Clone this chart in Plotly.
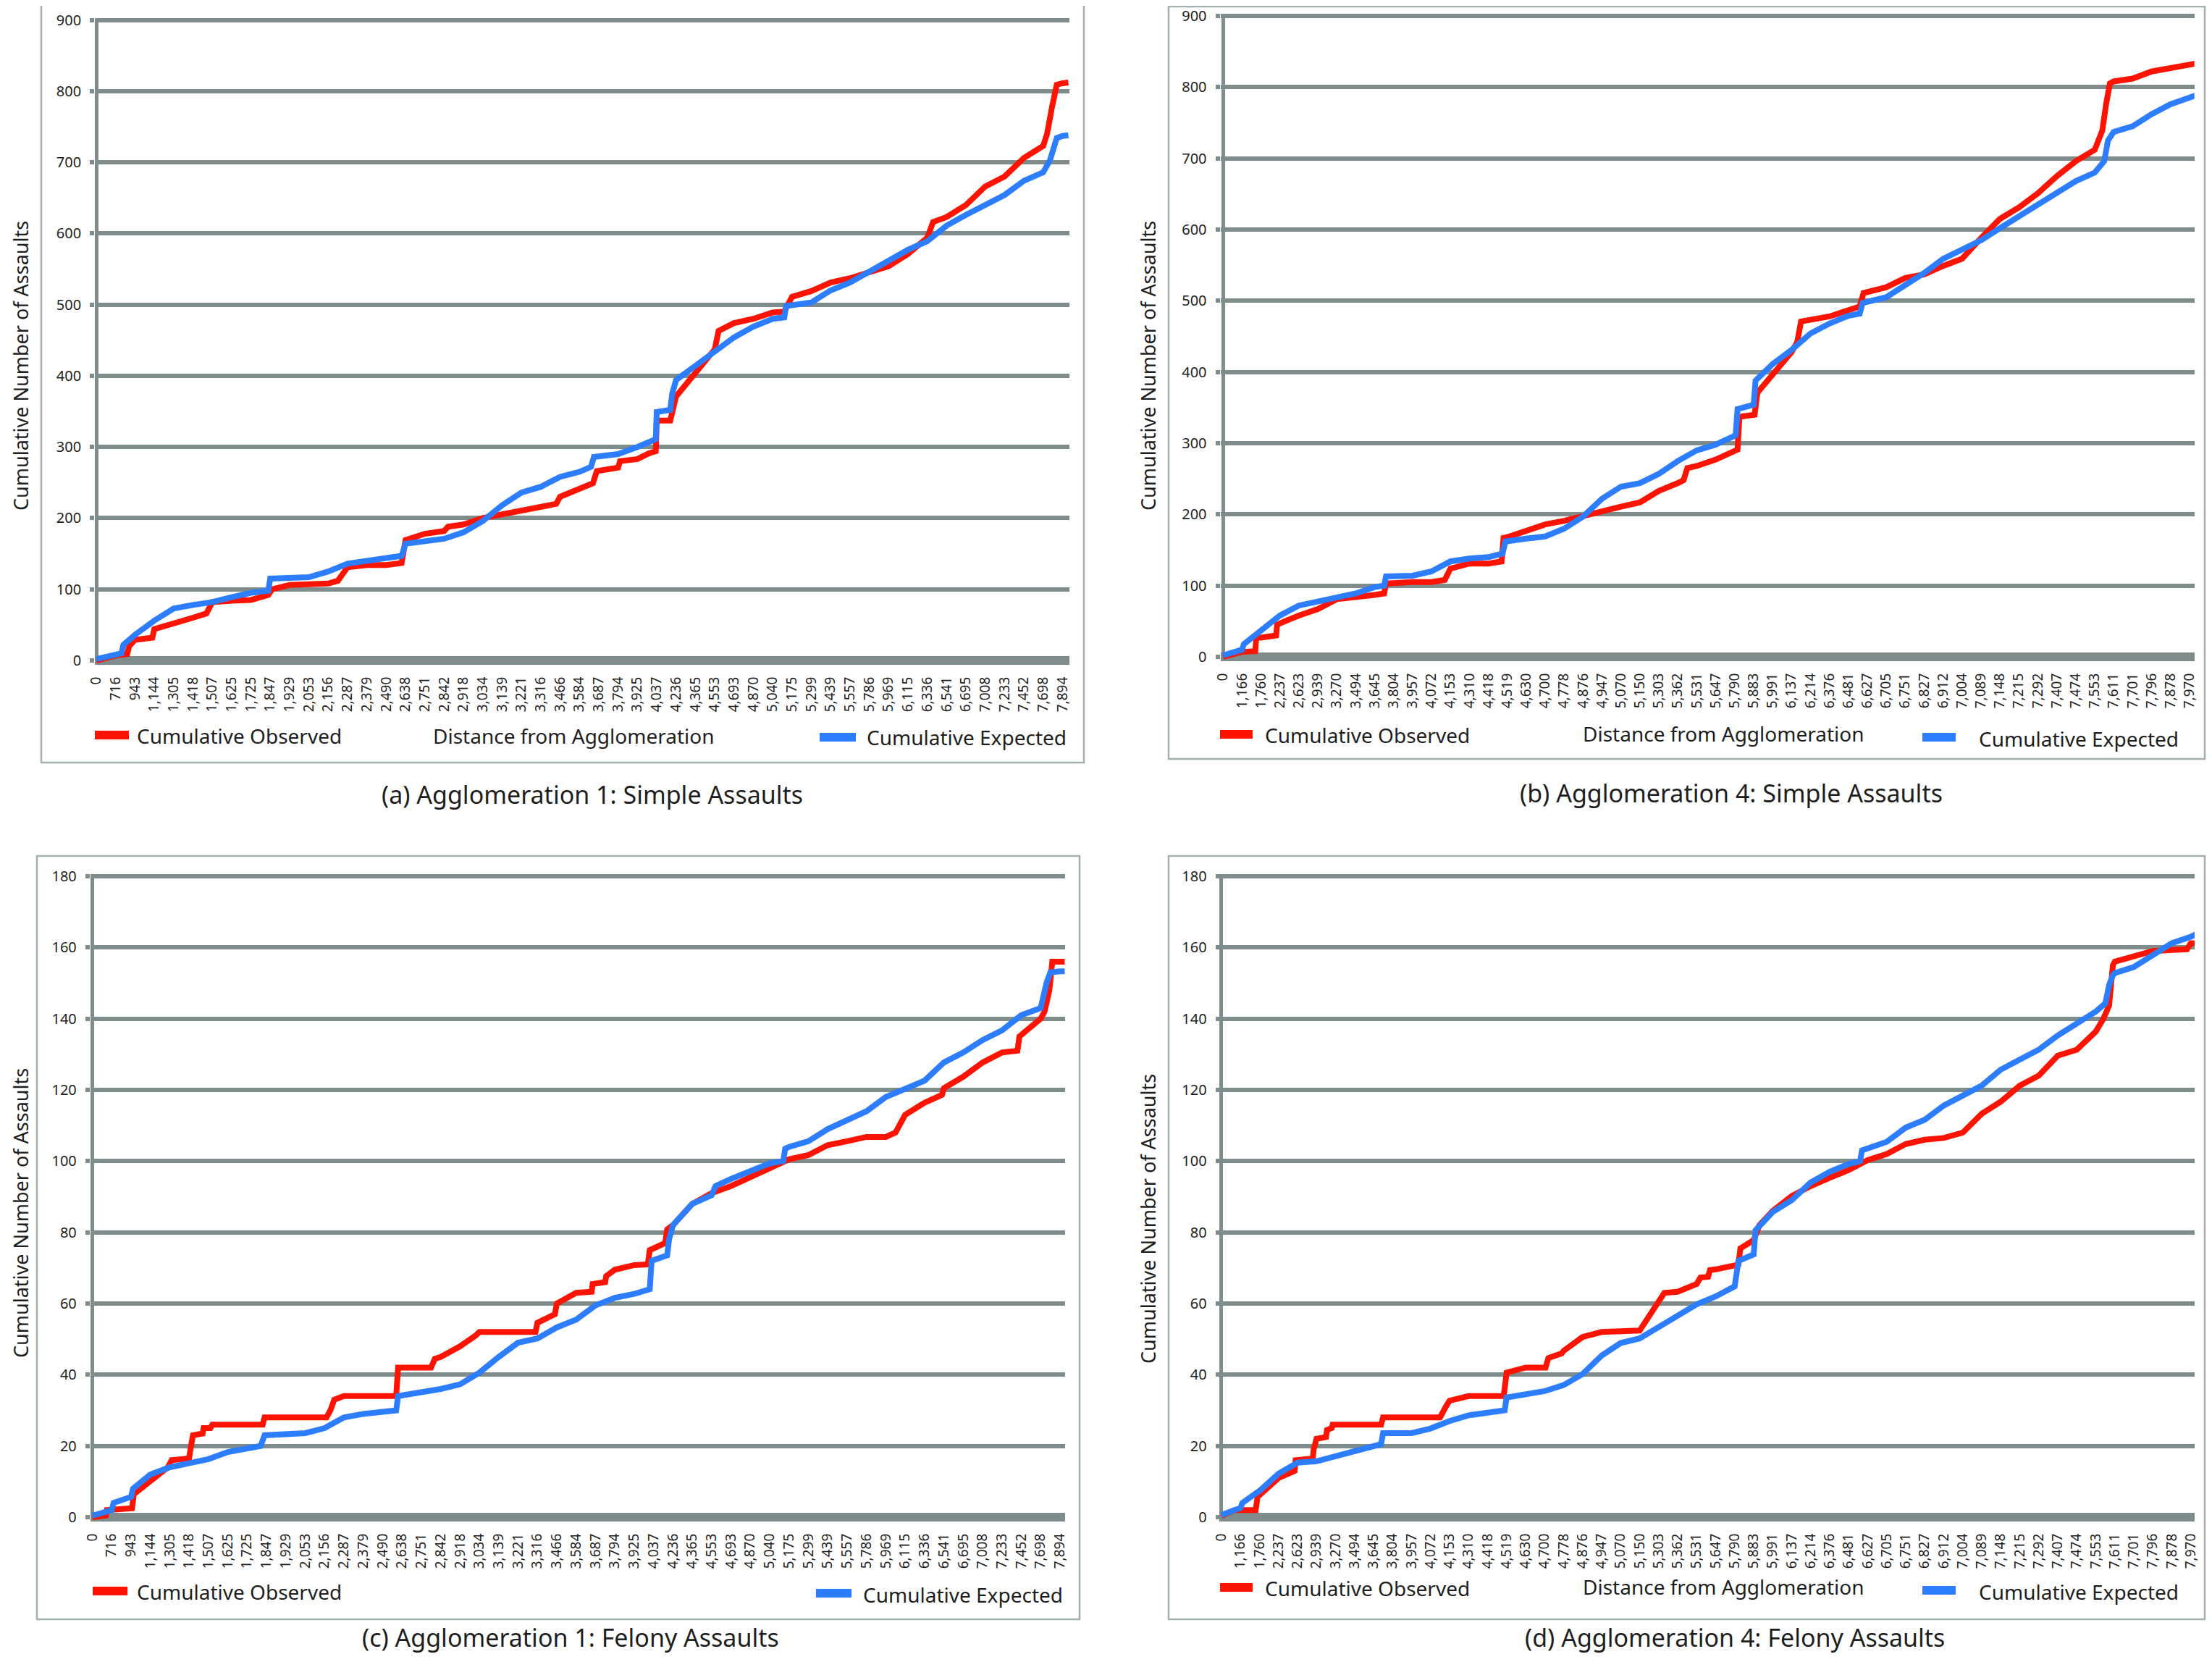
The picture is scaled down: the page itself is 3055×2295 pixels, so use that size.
import plotly.graph_objects as go

# reference page size; the html body keeps an 8px margin, so the figure is drawn inside it
W, H = 3055, 2295
OFF = 8
FW, FH = W - 2 * OFF, H - 2 * OFF

RED = "#fe1200"
BLUE = "#2c7dff"
GRID = "#7e8c8b"
BORDER = "#a3b0af"
TEXT = "#1e1e1e"
FONT = "Noto Sans"

# distance labels on the category axis
LABELS_AGG1 = ["0", "716", "943", "1,144", "1,305", "1,418", "1,507", "1,625", "1,725", "1,847",
               "1,929", "2,053", "2,156", "2,287", "2,379", "2,490", "2,638", "2,751", "2,842", "2,918",
               "3,034", "3,139", "3,221", "3,316", "3,466", "3,584", "3,687", "3,794", "3,925", "4,037",
               "4,236", "4,365", "4,553", "4,693", "4,870", "5,040", "5,175", "5,299", "5,439", "5,557",
               "5,786", "5,969", "6,115", "6,336", "6,541", "6,695", "7,008", "7,233", "7,452", "7,698",
               "7,894"]
LABELS_AGG4 = ["0", "1,166", "1,760", "2,237", "2,623", "2,939", "3,270", "3,494", "3,645", "3,804",
               "3,957", "4,072", "4,153", "4,310", "4,418", "4,519", "4,630", "4,700", "4,778", "4,876",
               "4,947", "5,070", "5,150", "5,303", "5,362", "5,531", "5,647", "5,790", "5,883", "5,991",
               "6,137", "6,214", "6,376", "6,481", "6,627", "6,705", "6,751", "6,827", "6,912", "7,004",
               "7,089", "7,148", "7,215", "7,292", "7,407", "7,474", "7,553", "7,611", "7,701", "7,796",
               "7,878", "7,970"]

# (a) agglomeration 1, simple assaults  (x = position along the label axis)
A_OBS_X = [0, 1, 1.6, 1.7, 2, 2.9, 3.0, 4, 5, 5.7, 6, 7, 8, 8.9, 9.1, 10, 11, 12, 12.5, 12.8,
           13, 14, 15, 15.8, 16, 17, 18, 18.2, 19, 20, 21, 22, 23, 23.8, 24, 25, 25.7, 25.9, 27, 27.1,
           28, 28.6, 28.95, 29, 29.7, 30, 31, 32, 32.2, 33, 34, 35, 35.6, 36, 37, 38, 39, 40, 41, 42,
           43, 43.3, 44, 45, 46, 47, 48, 49, 49.2, 49.45, 49.7, 50, 50.3]
A_OBS_Y = [0, 7, 9, 20, 29, 32, 44, 53, 60, 66, 82, 84, 85, 92, 100, 106, 108, 108, 112, 125,
           131, 134, 134, 137, 169, 178, 182, 188, 191, 200, 205, 211, 216, 220, 230, 240, 249, 266, 271, 280,
           283, 291, 294, 337, 337, 371, 403, 437, 463, 474, 480, 489, 490, 511, 519, 531, 537, 546, 554, 571,
           594, 616, 623, 640, 666, 680, 706, 723, 740, 777, 809, 811, 812]
A_EXP_X = [0, 1, 1.3, 1.4, 2, 3, 4, 5, 6, 7, 8, 8.9, 9.0, 10, 11, 12, 13, 14, 15, 15.8,
           16, 17, 18, 19, 20, 21, 22, 23, 24, 25, 25.6, 25.75, 27, 28, 28.95, 29.0, 29.7, 29.8, 30, 31,
           32, 33, 34, 35, 35.6, 35.7, 37, 38, 39, 40, 41, 42, 43, 44, 45, 46, 47, 48, 49, 49.35,
           49.5, 49.7, 50, 50.3]
A_EXP_Y = [2, 9, 10, 22, 36, 56, 73, 78, 82, 89, 95, 98, 115, 116, 117, 125, 136, 140, 144, 147,
           164, 167, 171, 180, 196, 218, 236, 244, 258, 265, 272, 286, 290, 300, 311, 349, 352, 375, 394, 414,
           434, 454, 469, 480, 482, 498, 503, 520, 531, 546, 563, 577, 589, 611, 626, 640, 654, 674, 686, 703,
           720, 734, 737, 738]

# (b) agglomeration 4, simple assaults
B_OBS_X = [0, 1, 1.7, 1.75, 2, 2.8, 2.85, 3, 4, 5, 6, 7, 8, 8.5, 8.6, 10, 11, 11.7, 12, 13,
           14, 14.7, 14.8, 15, 16, 17, 18, 19, 20, 21, 22, 23, 24, 24.3, 24.5, 25, 26, 27.15, 27.25, 28.05,
           28.2, 29, 30, 30.3, 30.5, 32, 33, 33.6, 33.8, 35, 36, 37, 38, 39, 40, 41, 42, 43, 44, 45,
           46, 46.4, 46.6, 46.8, 47, 48, 49, 50, 51, 51.3]
B_OBS_Y = [0, 7, 8, 27, 27, 30, 45, 47, 58, 67, 81, 83, 87, 89, 103, 105, 105, 108, 124, 131,
           131, 134, 167, 168, 177, 186, 191, 198, 206, 211, 217, 233, 244, 248, 265, 268, 277, 291, 337, 340,
           371, 397, 428, 442, 471, 478, 488, 492, 511, 519, 532, 537, 549, 559, 588, 615, 631, 651, 675, 696,
           712, 739, 776, 805, 808, 812, 822, 826, 832, 833]
B_EXP_X = [0, 1, 1.1, 2, 3, 4, 5, 6, 7, 8, 8.5, 8.6, 10, 11, 12, 13, 14, 14.75, 14.9, 16,
           17, 18, 19, 20, 21, 22, 23, 24, 25, 26, 27.05, 27.15, 28.0, 28.1, 29, 30, 31, 32, 33, 33.6,
           33.75, 35, 36, 37, 38, 39, 40, 41, 42, 43, 44, 45, 46, 46.5, 46.7, 46.9, 47, 48, 49, 50,
           51, 51.3]
B_EXP_Y = [2, 10, 18, 36, 58, 72, 78, 82, 89, 98, 100, 113, 114, 120, 134, 138, 140, 145, 162, 166,
           169, 180, 197, 222, 239, 244, 257, 275, 290, 298, 311, 348, 354, 388, 411, 431, 454, 468, 479, 482,
           497, 505, 522, 539, 559, 571, 585, 602, 618, 636, 651, 668, 680, 696, 725, 736, 737, 745, 762, 776,
           785, 788]

# (c) agglomeration 1, felony assaults
C_OBS_X = [0, 0.7, 0.75, 2.05, 2.15, 3, 3.9, 4.1, 5, 5.1, 5.2, 5.7, 5.75, 6.1, 6.2, 8.8, 8.9, 12.1, 12.3, 12.5,
           13, 15.7, 15.8, 17.5, 17.7, 18, 19, 19.8, 20, 22.9, 23, 23.9, 24, 25, 25.8, 25.85, 26.5, 26.55, 27, 28,
           28.7, 28.8, 29, 29.6, 29.7, 30, 31, 32, 33, 34, 35, 36, 37, 38, 39, 40, 41, 41.5, 42, 43,
           43.9, 44, 45, 46, 47, 47.8, 47.9, 48, 49, 49.2, 49.45, 49.6, 50, 50.25]
C_OBS_Y = [0, 0.5, 2, 2.5, 6.5, 10, 14, 16, 16.5, 20, 23, 23.5, 25, 25, 26, 26, 28, 28, 30, 33,
           34, 34, 42, 42, 44.5, 45, 48, 51, 52, 52, 54.6, 57, 60, 63, 63.3, 65.5, 66, 67.7, 69.5, 70.8,
           71, 75, 75.5, 77, 80.8, 82, 88, 91, 93, 95.5, 97.7, 100.5, 101.7, 104.5, 105.6, 106.8, 106.8, 108, 113, 116.4,
           118.6, 120.5, 123.7, 127.7, 130.5, 131, 135, 135.5, 140, 142, 148, 156, 156, 156]
C_EXP_X = [0, 1, 1.1, 2, 2.1, 3, 4, 5, 6, 7, 8, 8.7, 8.9, 10, 11, 12, 13, 14, 15, 15.7,
           15.8, 17, 18, 19, 20, 21, 22, 23, 24, 25, 26, 27, 28, 28.8, 28.9, 29.7, 29.8, 30, 31, 32,
           32.2, 33, 34, 35, 35.7, 35.8, 36, 37, 38, 39, 40, 41, 42, 43, 44, 45, 46, 47, 48, 49,
           49.3, 49.5, 50, 50.25]
C_EXP_Y = [0.4, 2, 4, 5.7, 8, 12, 14, 15, 16.3, 18.3, 19.2, 20, 23, 23.4, 23.6, 25, 28, 29, 29.7, 30,
           34, 35, 36, 37.3, 40.6, 45, 49, 50.2, 53.3, 55.5, 59.5, 61.6, 62.7, 64, 72, 73.5, 78, 82, 88, 90.4,
           93, 95, 97.2, 99.4, 100, 103.5, 104, 105.6, 109, 111.3, 114, 118, 120.3, 122.6, 127.7, 130.5, 134, 136.7, 141, 143,
           150, 153, 153.3, 153.3]

# (d) agglomeration 4, felony assaults
D_OBS_X = [0, 0.7, 1.8, 1.9, 2, 3, 3.85, 3.9, 4.8, 4.85, 5, 5.5, 5.55, 5.8, 5.85, 8.4, 8.5, 11.5, 11.8, 12,
           13, 14.85, 15, 16, 17.05, 17.2, 17.9, 18, 19, 20, 22, 22.2, 22.7, 23, 23.3, 24, 25, 25.2, 25.6, 25.7,
           26, 27, 27.2, 27.3, 28, 28.3, 29, 30, 31, 32, 33, 34, 35, 36, 37, 38, 39, 40, 41, 42,
           43, 44, 45, 46, 46.4, 46.7, 46.9, 47, 48, 49, 50, 50.8, 51, 51.3]
D_OBS_Y = [0.4, 2, 2, 5.7, 6.2, 11, 13, 16, 16.5, 19, 22, 22.5, 24.5, 25, 26, 26, 28, 28, 31, 32.7,
           34, 34, 40.6, 42, 42, 44.7, 46, 46.7, 50.6, 52, 52.4, 54, 58, 60, 63, 63.3, 65.5, 67.3, 67.5, 69.4,
           69.6, 70.7, 71, 75.5, 77.8, 82, 86, 90.2, 93, 95.3, 97.5, 100.3, 102, 104.8, 106, 106.5, 108, 113.3, 116.7, 121.2,
           124, 129.6, 131.3, 136.4, 140, 143.7, 155, 156, 157.5, 159, 159.3, 159.5, 161.2, 161.2]
D_EXP_X = [0, 1, 1.1, 2, 3, 4, 5, 6, 7, 8, 8.4, 8.5, 10, 11, 12, 13, 14, 14.9, 15, 16,
           17, 18, 19, 20, 21, 22, 23, 24, 25, 26, 27, 27.2, 28, 28.1, 29, 30, 31, 32, 33, 33.6,
           33.7, 35, 36, 37, 38, 39, 40, 41, 42, 43, 44, 45, 46, 46.5, 46.7, 46.9, 47, 48, 49, 50,
           51, 51.3]
D_EXP_Y = [0.6, 2.6, 4, 7.4, 12.2, 15.3, 15.7, 17, 18.3, 19.7, 20.5, 23.6, 23.6, 24.9, 27, 28.6, 29.3, 30, 33.6, 34.7,
           35.4, 37.1, 40.2, 45.4, 48.9, 50.2, 53.3, 56.3, 59.8, 62, 64.8, 72, 73.8, 80.6, 85.7, 89, 94, 97, 99.2, 100,
           103, 105.4, 109.4, 111.6, 115.6, 118.4, 121.2, 125.7, 128.5, 131.3, 135.3, 138.7, 142, 144.3, 149.4, 152.2, 152.8, 154.5, 157.8, 161.2,
           163, 163.8]

CAPTIONS = ["(a) Agglomeration 1: Simple Assaults", "(b) Agglomeration 4: Simple Assaults",
            "(c) Agglomeration 1: Felony Assaults", "(d) Agglomeration 4: Felony Assaults"]


def px(x):
    # page pixel -> paper fraction
    return (x - OFF) / FW


def py(y):
    return 1 - (y - OFF) / FH


# page geometry for each panel (pixel positions on the 3055x2295 page)
panels = [
    dict(labels=LABELS_AGG1, obs=(A_OBS_X, A_OBS_Y), exp=(A_EXP_X, A_EXP_Y),
         idx0=133, step=26.69, xr=[-0.07, 50.35], zero=912, top=27.5, top_val=900, yr=[-6, 903], dtick=100,
         box=(57, 6, 1497, 1053), ytitle=(28, 505), distance=(792, 1016),
         red_glyph=(131, 178, 1015), red_text=(188, 1016), blue_glyph=(1132, 1182, 1018), blue_text=(1196, 1018),
         caption=(818, 1097)),
    dict(labels=LABELS_AGG4, obs=(B_OBS_X, B_OBS_Y), exp=(B_EXP_X, B_EXP_Y),
         idx0=1689.2, step=26.17, xr=[-0.14, 51.26], zero=907, top=22, top_val=900, yr=[-6, 903], dtick=100,
         box=(1614, 9, 3045, 1048), ytitle=(1585, 505), distance=(2380, 1013),
         red_glyph=(1685, 1730, 1014), red_text=(1746, 1015), blue_glyph=(2655, 2701, 1018), blue_text=(2732, 1020),
         caption=(2391, 1095)),
    dict(labels=LABELS_AGG1, obs=(C_OBS_X, C_OBS_Y), exp=(C_EXP_X, C_EXP_Y),
         idx0=127.5, step=26.73, xr=[-0.1, 50.25], zero=2095, top=1210, top_val=180, yr=[-1.2, 180.6], dtick=20,
         box=(51, 1182, 1491, 2236), ytitle=(28, 1675), distance=None,
         red_glyph=(128, 176, 2197), red_text=(188, 2198), blue_glyph=(1127, 1176, 2200), blue_text=(1191, 2202),
         caption=(788, 2261)),
    dict(labels=LABELS_AGG4, obs=(D_OBS_X, D_OBS_Y), exp=(D_EXP_X, D_EXP_Y),
         idx0=1687, step=26.25, xr=[-0.05, 51.2], zero=2095, top=1210, top_val=180, yr=[-1.2, 180.6], dtick=20,
         box=(1614, 1182, 3045, 2236), ytitle=(1585, 1683), distance=(2380, 2191),
         red_glyph=(1685, 1730, 2192), red_text=(1746, 2193), blue_glyph=(2655, 2701, 2196), blue_text=(2732, 2198),
         caption=(2396, 2261)),
]

fig = go.Figure()
shapes = []
annotations = []


def text(x, y, s, size, xanchor="left", angle=0):
    annotations.append(dict(x=px(x), y=py(y), xref="paper", yref="paper", text=s, showarrow=False,
                            xanchor=xanchor, yanchor="middle", textangle=angle, borderpad=0,
                            font=dict(family=FONT, size=size, color=TEXT)))


for k, p in enumerate(panels, start=1):
    sfx = "" if k == 1 else str(k)
    xa, ya = "x" + sfx, "y" + sfx

    fig.add_trace(go.Scatter(x=p["obs"][0], y=p["obs"][1], mode="lines", name="Cumulative Observed",
                             line=dict(color=RED, width=8), xaxis=xa, yaxis=ya,
                             showlegend=False, hoverinfo="skip"))
    fig.add_trace(go.Scatter(x=p["exp"][0], y=p["exp"][1], mode="lines", name="Cumulative Expected",
                             line=dict(color=BLUE, width=8), xaxis=xa, yaxis=ya,
                             showlegend=False, hoverinfo="skip"))

    x0 = p["idx0"] + p["xr"][0] * p["step"]
    x1 = p["idx0"] + p["xr"][1] * p["step"]
    per = (p["zero"] - p["top"]) / p["top_val"]
    ybot = p["zero"] - p["yr"][0] * per
    ytop = p["zero"] - p["yr"][1] * per

    fig.layout["xaxis" + sfx] = dict(
        domain=[px(x0), min(px(x1), 1)], range=p["xr"], anchor=ya,
        tickmode="array", tickvals=list(range(len(p["labels"]))), ticktext=p["labels"],
        tickangle=-90, tickfont=dict(family=FONT, size=19, color=TEXT),
        ticks="", ticklabelstandoff=12, showgrid=False, showline=False,
        zeroline=True, zerolinecolor=GRID, zerolinewidth=5, automargin=False, fixedrange=True)
    fig.layout["yaxis" + sfx] = dict(
        domain=[py(ybot), py(ytop)], range=p["yr"], anchor=xa,
        tick0=0, dtick=p["dtick"], showgrid=True, gridcolor=GRID, gridwidth=6,
        zeroline=True, zerolinecolor=GRID, zerolinewidth=12, showline=False,
        ticks="outside", ticklen=6, tickwidth=6, tickcolor=GRID, ticklabelstandoff=8,
        tickfont=dict(family=FONT, size=20, color=TEXT), automargin=False, fixedrange=True)

    bx0, by0, bx1, by1 = p["box"]
    shapes.append(dict(type="rect", xref="paper", yref="paper", x0=px(bx0), x1=px(bx1),
                       y0=py(by1), y1=py(by0), line=dict(color=BORDER, width=2.5), layer="below"))

    gx0, gx1, gy = p["red_glyph"]
    shapes.append(dict(type="line", xref="paper", yref="paper", x0=px(gx0), x1=px(gx1), y0=py(gy), y1=py(gy),
                       line=dict(color=RED, width=12)))
    gx0, gx1, gy = p["blue_glyph"]
    shapes.append(dict(type="line", xref="paper", yref="paper", x0=px(gx0), x1=px(gx1), y0=py(gy), y1=py(gy),
                       line=dict(color=BLUE, width=12)))

    text(*p["red_text"], "Cumulative Observed", 28)
    text(*p["blue_text"], "Cumulative Expected", 28)
    if p["distance"]:
        text(*p["distance"], "Distance from Agglomeration", 28, xanchor="center")
    text(*p["ytitle"], "Cumulative Number of Assaults", 27, xanchor="center", angle=-90)
    text(*p["caption"], CAPTIONS[k - 1], 34, xanchor="center")

fig.update_layout(
    width=FW, height=FH,
    margin=dict(l=0, r=0, t=0, b=0, pad=0),
    paper_bgcolor="white", plot_bgcolor="white",
    shapes=shapes, annotations=annotations,
    showlegend=False, hovermode=False,
    font=dict(family=FONT, color=TEXT),
)

fig.write_html("out.html")
